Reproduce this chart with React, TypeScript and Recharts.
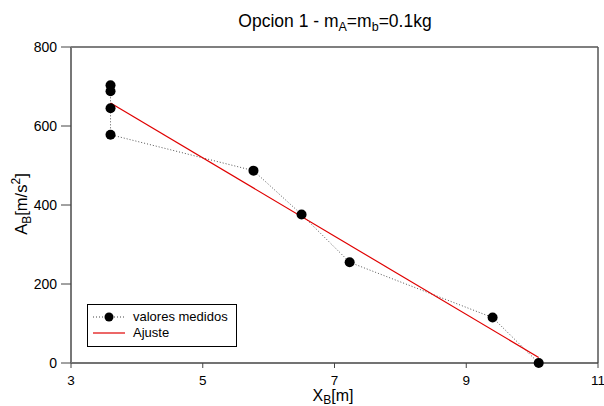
import React from "react";
import { ComposedChart, Line, XAxis, YAxis, Label, ReferenceLine } from "recharts";

const measuredX = [3.6, 3.6, 3.6, 3.6, 5.77, 6.5, 7.23, 9.4, 10.1];
const measuredY = [703, 688, 645, 578, 487, 376, 255, 115, 0];
const fitX = [3.6, 10.1];
const fitY = [658, 14];
const xTicks = [3, 5, 7, 9, 11];
const yTicks = [0, 200, 400, 600, 800];
const seriesNames = ["valores medidos", "Ajuste"];

const measured = measuredX.map((x, i) => ({ x, y: measuredY[i] }));
const fit = fitX.map((x, i) => ({ x, y: fitY[i] }));

const FONT = "'Liberation Sans', Arial, sans-serif";

const LegendBox = () => (
  <div
    style={{
      position: "absolute",
      left: 87,
      top: 304,
      border: "1px solid #000",
      background: "#fff",
      width: 150,
      height: 43,
      boxSizing: "border-box",
      fontFamily: FONT,
      fontSize: 13,
      color: "#000",
      padding: "4px 0 0 4px",
      lineHeight: "16px",
    }}
  >
    <div style={{ display: "flex", alignItems: "center" }}>
      <svg width={34} height={14}>
        <line x1={1} y1={7} x2={33} y2={7} stroke="#444" strokeDasharray="1 2" />
        <circle cx={17} cy={7} r={4.5} fill="#000" />
      </svg>
      <span style={{ marginLeft: 7 }}>{seriesNames[0]}</span>
    </div>
    <div style={{ display: "flex", alignItems: "center" }}>
      <svg width={34} height={14}>
        <line x1={1} y1={7} x2={33} y2={7} stroke="#e00000" strokeWidth={1.2} />
      </svg>
      <span style={{ marginLeft: 7 }}>{seriesNames[1]}</span>
    </div>
  </div>
);

const TitleText = () => (
  <text x={335} y={27} textAnchor="middle" fontFamily={FONT} fontSize={17.5} fill="#000">
    Opcion 1 - m
    <tspan fontSize={12.5} dy={4}>A</tspan>
    <tspan dy={-4}>=m</tspan>
    <tspan fontSize={12.5} dy={4}>b</tspan>
    <tspan dy={-4}>=0.1kg</tspan>
  </text>
);

export default function App() {
  return (
    <div style={{ position: "absolute", left: 0, top: 0, width: 604, height: 406, background: "#fff" }}>
      <ComposedChart
        width={604}
        height={406}
        margin={{ top: 47, right: 6, bottom: 13, left: 21 }}
      >
        <XAxis
          type="number"
          dataKey="x"
          domain={[3, 11]}
          ticks={xTicks}
          interval={0}
          allowDataOverflow
          height={30}
          axisLine={{ stroke: "#444", strokeWidth: 1.3 }}
          tickLine={{ stroke: "#444" }}
          tickSize={5}
          tickMargin={7}
          tick={{ fill: "#000", fontSize: 13.5, fontFamily: FONT }}
        >
          <Label
            content={() => (
              <text x={333} y={401} textAnchor="middle" fontFamily={FONT} fontSize={16} fill="#000">
                X<tspan fontSize={12} dy={3}>B</tspan>
                <tspan dy={-3}>[m]</tspan>
              </text>
            )}
          />
        </XAxis>
        <YAxis
          type="number"
          domain={[0, 800]}
          ticks={yTicks}
          interval={0}
          width={50}
          axisLine={{ stroke: "#777", strokeWidth: 2 }}
          tickLine={{ stroke: "#444" }}
          tickSize={10}
          tickMargin={4}
          tick={{ fill: "#000", fontSize: 14, fontFamily: FONT }}
        >
          <Label
            content={() => (
              <text
                x={27}
                y={204}
                transform="rotate(-90 27 204)"
                textAnchor="middle"
                fontFamily={FONT}
                fontSize={16.5}
                fill="#000"
              >
                A<tspan fontSize={12} dy={4}>B</tspan>
                <tspan dy={-4}>[m/s</tspan>
                <tspan fontSize={12} dy={-7}>2</tspan>
                <tspan dy={7}>]</tspan>
              </text>
            )}
          />
        </YAxis>
        <ReferenceLine y={800} stroke="#555" strokeWidth={1.5} ifOverflow="visible" />
        <ReferenceLine x={11} stroke="#555" strokeWidth={1.5} ifOverflow="visible" />
        <Line
          data={measured}
          dataKey="y"
          type="linear"
          stroke="#555"
          strokeWidth={1}
          strokeDasharray="1 2"
          dot={{ r: 5, fill: "#000", stroke: "#000", strokeWidth: 0, strokeDasharray: "" }}
          activeDot={false}
          isAnimationActive={false}
          name={seriesNames[0]}
        />
        <Line
          data={fit}
          dataKey="y"
          type="linear"
          stroke="#e00000"
          strokeWidth={1.2}
          dot={false}
          activeDot={false}
          isAnimationActive={false}
          name={seriesNames[1]}
        />
        <TitleText />
      </ComposedChart>
      <LegendBox />
    </div>
  );
}
